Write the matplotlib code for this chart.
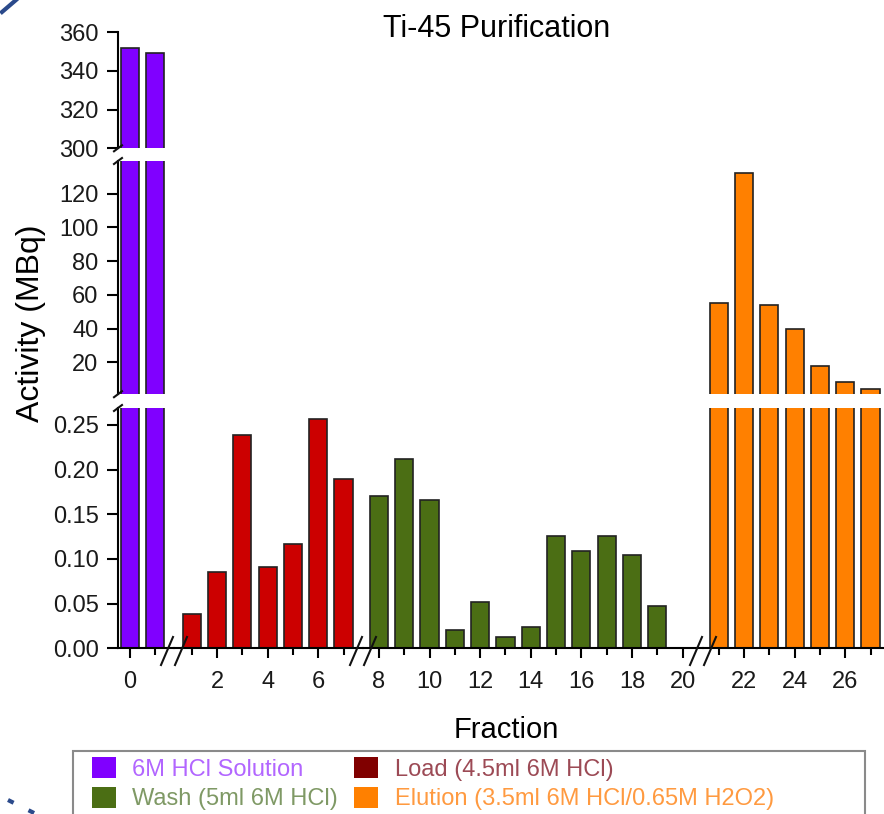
import matplotlib
matplotlib.use('Agg')
import matplotlib.pyplot as plt
from matplotlib.patches import Patch, Rectangle
from matplotlib.lines import Line2D
from matplotlib.ticker import MultipleLocator, FormatStrFormatter, FixedLocator

plt.rcParams['font.family'] = ['Liberation Sans', 'DejaVu Sans']

# data
solution_x = [0, 1]
solution_y = [352.0, 349.4]

load_x = [1, 2, 3, 4, 5, 6, 7]
load_y = [0.038, 0.085, 0.239, 0.091, 0.117, 0.257, 0.190]

wash_x = [8, 9, 10, 11, 12, 13, 14, 15, 16, 17, 18, 19]
wash_y = [0.170, 0.212, 0.166, 0.020, 0.052, 0.013, 0.024, 0.126, 0.109, 0.126, 0.105, 0.047]

elution_x = [21, 22, 23, 24, 25, 26, 27]
elution_y = [55.4, 132.4, 53.8, 39.6, 17.8, 8.6, 4.1]

labels = ['6M HCl Solution', 'Load (4.5ml 6M HCl)', 'Wash (5ml 6M HCl)',
          'Elution (3.5ml 6M HCl/0.65M H2O2)']
bar_colors = ['#8000ff', '#cc0000', '#4b6e14', '#ff8000']
legend_colors = ['#8000ff', '#800000', '#4b6e14', '#ff8000']
text_colors = ['#b266ff', '#9c4a55', '#7f9965', '#ff9a40']

W, H = 884, 814


def fx(px):
    return px / W


def fy(py):
    return 1 - py / H


fig = plt.figure(figsize=(W / 100, H / 100), dpi=100)

# broken y axis: (top px, bottom px, ylim, ticks, format)
rows = [
    (32.3, 148.3, (300, 360), [300, 320, 340, 360], '%d'),
    (161.0, 394.2, (1.2, 139.3), [20, 40, 60, 80, 100, 120], '%d'),
    (408.0, 648.3, (0, 0.269), [0, 0.05, 0.10, 0.15, 0.20, 0.25], '%.2f'),
]
# broken x axis: (left px, right px, xlim)
cols = [
    (118, 174, (-0.47, 1.74)),
    (174, 363, (0.30, 7.77)),
    (363, 703, (7.37, 20.81)),
    (703, 884, (20.38, 27.53)),
]
col_series = [(solution_x, solution_y), (load_x, load_y),
              (wash_x, wash_y), (elution_x, elution_y)]

for r, (top, bot, ylim, yticks, yfmt) in enumerate(rows):
    for c, (left, right, xlim) in enumerate(cols):
        ax = fig.add_axes([fx(left), fy(bot), fx(right) - fx(left), fy(top) - fy(bot)])
        ax.patch.set_visible(False)
        xs, ys = col_series[c]
        ax.bar(xs, ys, width=0.72, color=bar_colors[c], edgecolor='#222222', linewidth=1.2)
        ax.set_xlim(*xlim)
        ax.set_ylim(*ylim)
        for s in ['top', 'right']:
            ax.spines[s].set_visible(False)
        ax.spines['left'].set_visible(c == 0)
        ax.spines['bottom'].set_visible(r == 2)
        ax.spines['left'].set_linewidth(1.5)
        ax.spines['bottom'].set_linewidth(1.5)

        if c == 0:
            ax.yaxis.set_major_locator(FixedLocator(yticks))
            ax.yaxis.set_major_formatter(FormatStrFormatter(yfmt))
            ax.tick_params(axis='y', length=8, width=1.5, pad=6, labelsize=17,
                           labelcolor='#1a1a1a')
        else:
            ax.set_yticks([])

        if r == 2:
            ax.xaxis.set_major_locator(MultipleLocator(2))
            ax.xaxis.set_minor_locator(MultipleLocator(1))
            ax.xaxis.set_major_formatter(FormatStrFormatter('%d'))
            ax.tick_params(axis='x', which='major', length=7.5, width=1.5, pad=9,
                           labelsize=17, labelcolor='#1a1a1a')
            ax.tick_params(axis='x', which='minor', length=5, width=1.5)
        else:
            ax.set_xticks([])
            ax.set_xticks([], minor=True)


def slash(xc, yc, dx, dy, lw=1.5):
    fig.add_artist(Line2D([fx(xc - dx), fx(xc + dx)], [fy(yc + dy), fy(yc - dy)],
                          color='#111111', lw=lw))


# break marks on the y axis
for yb in [148.3, 161.0, 394.2, 408.0]:
    slash(118, yb, 4, 3)

# double slashes on the x axis
for xb in [174, 363, 703]:
    slash(xb - 7, 651, 6, 14)
    slash(xb + 7, 651, 6, 14)

fig.text(fx(497), fy(37), 'Ti-45 Purification', ha='center', va='baseline', fontsize=22)
fig.text(fx(31), fy(323), 'Activity (MBq)', rotation=90, ha='center', va='center', fontsize=23)
fig.text(fx(506), fy(738), 'Fraction', ha='center', va='baseline', fontsize=21)

# legend, filled column-wise
order = [0, 2, 1, 3]
handles = [Patch(facecolor=legend_colors[i], edgecolor='none') for i in order]
leg = fig.legend(handles, [labels[i] for i in order], loc='upper left',
                 bbox_to_anchor=(fx(92), fy(757)), ncol=2, frameon=False, fontsize=17,
                 handlelength=1.0, handleheight=1.0, handletextpad=0.7,
                 columnspacing=0.7, labelspacing=0.25, borderpad=0, borderaxespad=0)
for t, i in zip(leg.get_texts(), order):
    t.set_color(text_colors[i])

fig.add_artist(Rectangle((fx(73), fy(830)), fx(865) - fx(73), fy(751) - fy(830),
                         transform=fig.transFigure, fill=False, edgecolor='#8a8a8a',
                         linewidth=1.5, clip_on=False))

# blue strokes at the corners of the slide crop
fig.add_artist(Line2D([fx(2), fx(16)], [fy(12), fy(0)], color='#2b4a8b', lw=3))
fig.add_artist(Line2D([fx(8), fx(40)], [fy(800), fy(816)], color='#2b4a8b', lw=3,
                      linestyle=(0, (1.5, 4))))

fig.savefig('out.png', dpi=100)
